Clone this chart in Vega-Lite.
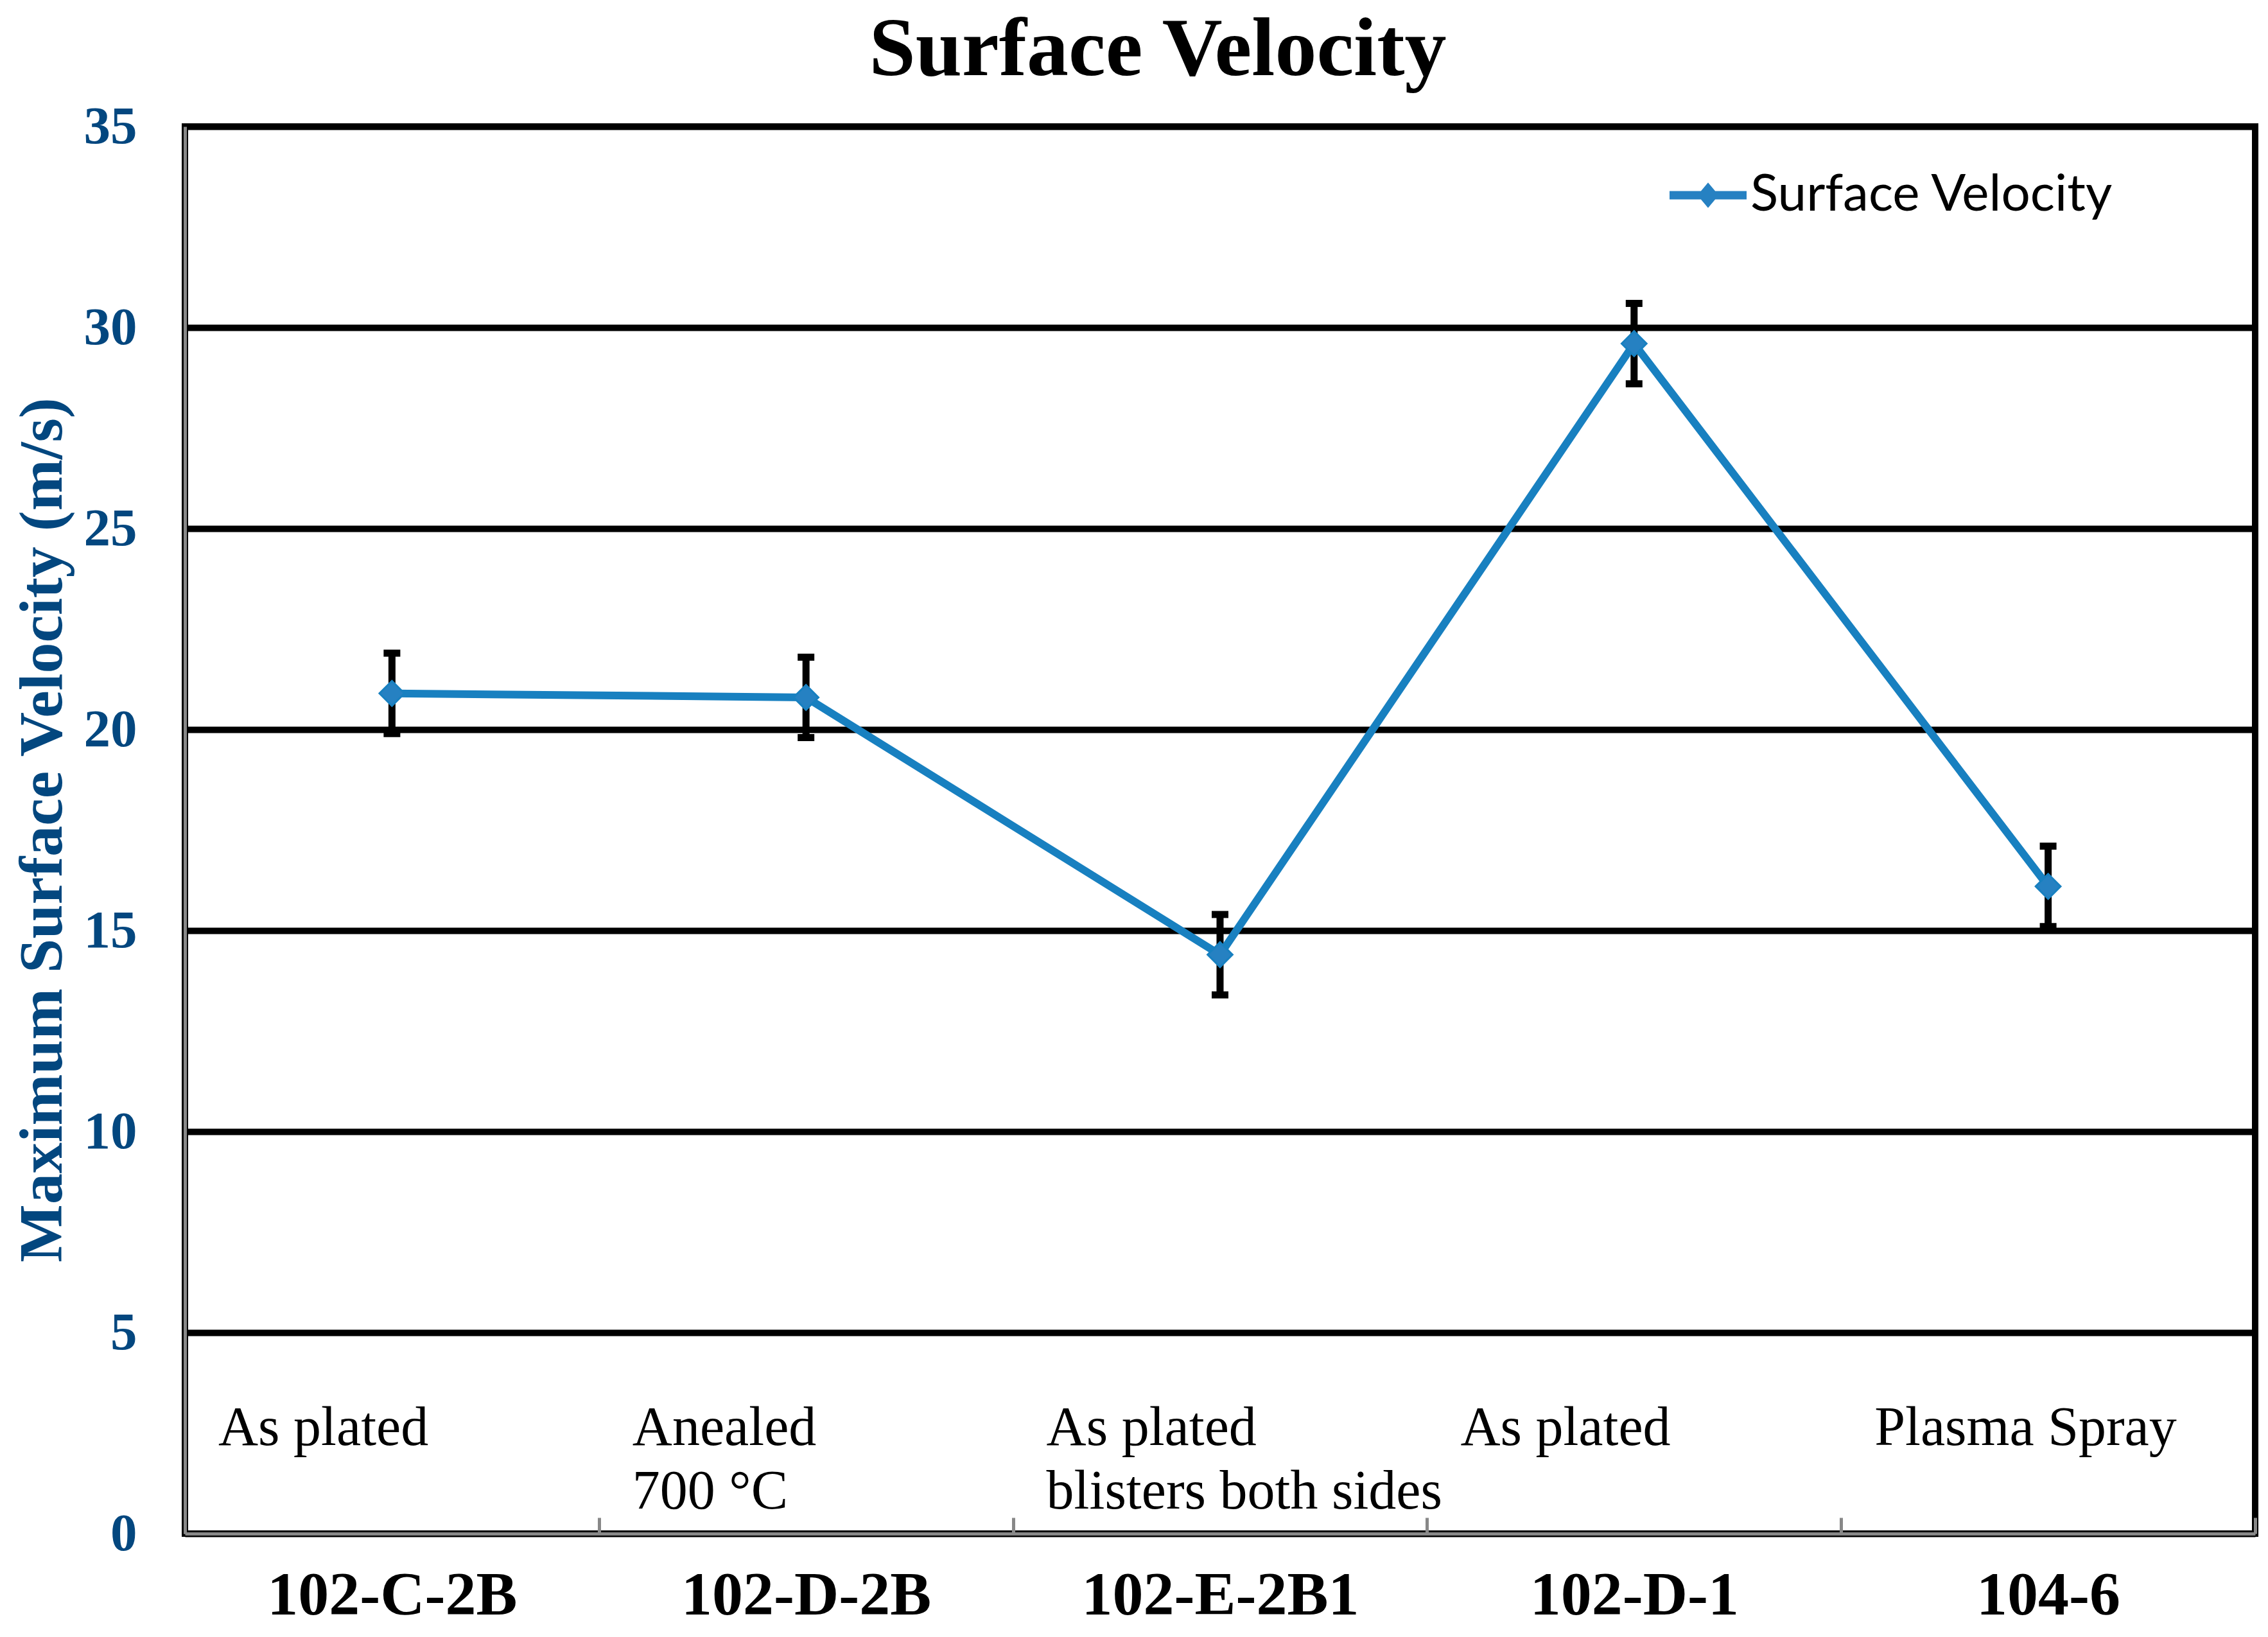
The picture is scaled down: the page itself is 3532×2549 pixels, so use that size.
{
  "$schema": "https://vega.github.io/schema/vega-lite/v6.json",
  "width": 3224,
  "height": 2191,
  "autosize": {"type": "none"},
  "padding": {"left": 288, "top": 197, "right": 20, "bottom": 161},
  "background": "white",
  "title": {
    "text": "Surface Velocity",
    "font": "Liberation Serif",
    "fontSize": 130,
    "fontWeight": "bold",
    "color": "black",
    "anchor": "middle",
    "frame": "group",
    "dx": -97,
    "offset": 12
  },
  "config": {
    "view": {"stroke": "black", "strokeWidth": 10},
    "legend": {
      "orient": "none",
      "legendX": 2312,
      "legendY": 47,
      "padding": 0,
      "symbolType": "M-1,-0.108 L-0.185,-0.108 L0,-0.33 L0.185,-0.108 L1,-0.108 L1,0.108 L0.185,0.108 L0,0.33 L-0.185,0.108 L-1,0.108 Z",
      "symbolSize": 14400,
      "symbolStrokeWidth": 0,
      "labelFont": "Lato",
      "labelFontSize": 80,
      "labelColor": "black",
      "labelOffset": 6,
      "labelLimit": 1000
    }
  },
  "data": {
    "values": [
      {"sample": "102-C-2B", "v": 20.9, "lo": 19.9, "hi": 21.9, "note": "As plated", "series": "Surface Velocity"},
      {"sample": "102-D-2B", "v": 20.8, "lo": 19.8, "hi": 21.8, "note": "Anealed\n700 °C", "series": "Surface Velocity"},
      {"sample": "102-E-2B1", "v": 14.4, "lo": 13.4, "hi": 15.4, "note": "As plated\nblisters both sides", "series": "Surface Velocity"},
      {"sample": "102-D-1", "v": 29.6, "lo": 28.6, "hi": 30.6, "note": "As plated", "series": "Surface Velocity"},
      {"sample": "104-6", "v": 16.1, "lo": 15.1, "hi": 17.1, "note": "Plasma Spray", "series": "Surface Velocity"}
    ]
  },
  "encoding": {
    "x": {
      "field": "sample",
      "type": "nominal",
      "sort": null,
      "scale": {"type": "band", "paddingInner": 0, "paddingOuter": 0},
      "axis": {
        "title": null,
        "labelFont": "Liberation Serif",
        "labelFontSize": 96,
        "labelFontWeight": "bold",
        "labelColor": "black",
        "labelAngle": 0,
        "labelPadding": 74,
        "labelLimit": 1000,
        "tickBand": "extent",
        "tickSize": -25,
        "tickColor": "#888888",
        "tickWidth": 5,
        "domainColor": "#888888",
        "domainWidth": 5,
        "grid": false
      }
    }
  },
  "layer": [
    {
      "mark": {"type": "rule", "color": "black", "strokeWidth": 11},
      "encoding": {
        "y": {"field": "lo", "type": "quantitative", "scale": {"domain": [0, 35], "nice": false},
          "axis": {
            "title": "Maximum Surface Velocity (m/s)",
            "values": [0, 5, 10, 15, 20, 25, 30, 35],
            "format": "d",
            "labelFont": "Liberation Serif",
            "labelFontSize": 83,
            "labelFontWeight": "bold",
            "labelColor": "#03477F",
            "labelPadding": 75,
            "tickSize": 0,
            "ticks": false,
            "domainColor": "#888888",
            "domainWidth": 5,
            "grid": true,
            "gridColor": "black",
            "gridWidth": 10,
            "titleFont": "Liberation Serif",
            "titleFontSize": 96,
            "titleFontWeight": "bold",
            "titleColor": "#03477F",
            "titleX": -222,
            "titleY": 1095,
            "titleAngle": -90,
            "titleAlign": "center",
            "titleBaseline": "middle"
          }
        },
        "y2": {"field": "hi"}
      }
    },
    {
      "mark": {"type": "tick", "color": "black", "size": 26, "thickness": 11, "opacity": 1},
      "encoding": {"y": {"field": "lo", "type": "quantitative"}}
    },
    {
      "mark": {"type": "tick", "color": "black", "size": 26, "thickness": 11, "opacity": 1},
      "encoding": {"y": {"field": "hi", "type": "quantitative"}}
    },
    {
      "mark": {"type": "line", "color": "#1880C0", "strokeWidth": 12},
      "encoding": {"y": {"field": "v", "type": "quantitative"}}
    },
    {
      "mark": {"type": "point", "shape": "diamond", "filled": true, "size": 1500, "opacity": 1, "stroke": "#1880C0", "strokeWidth": 3},
      "encoding": {
        "y": {"field": "v", "type": "quantitative"},
        "color": {"field": "series", "type": "nominal", "scale": {"range": ["#2681C2"]}, "legend": {"title": null}}
      }
    },
    {
      "mark": {"type": "text", "font": "Liberation Serif", "fontSize": 86, "color": "black", "align": "left", "baseline": "alphabetic", "dx": 52, "lineBreak": "\n", "lineHeight": 99},
      "encoding": {
        "x": {"field": "sample", "type": "nominal", "sort": null, "bandPosition": 0},
        "y": {"datum": 2.2, "type": "quantitative"},
        "text": {"field": "note"}
      }
    }
  ]
}
